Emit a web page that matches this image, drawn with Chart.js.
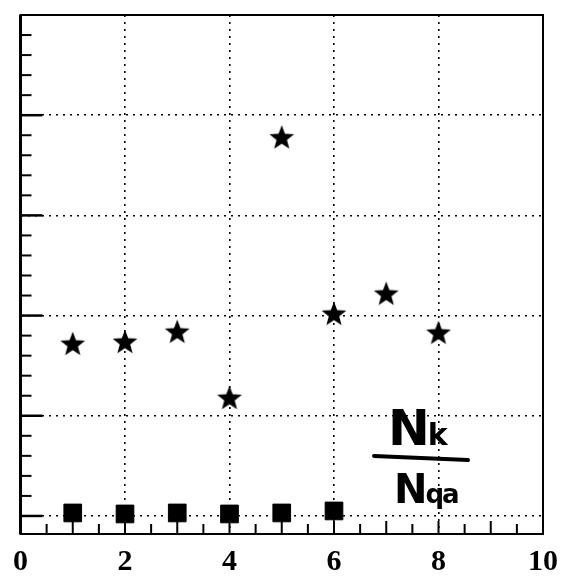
<!DOCTYPE html>
<html>
<head>
<meta charset="utf-8">
<script src="https://cdn.jsdelivr.net/npm/chart.js@4.4.1/dist/chart.umd.min.js"></script>
<style>
  html, body { margin: 0; padding: 0; background: #fff; }
  #wrap { position: relative; width: 571px; height: 576px; }
  .note { position: absolute; font-family: 'DejaVu Sans', sans-serif; font-weight: bold; color: #000; line-height: 1; }
</style>
</head>
<body>
<div id="wrap">
  <canvas id="chart" width="571" height="576"></canvas>
  <div class="note" style="left:388px; top:403px; font-size:50px; letter-spacing:-2px;">N<span style="font-size:30px">k</span></div>
  <div style="position:absolute; left:372px; top:456px; width:98px; height:4px; background:#000; transform:rotate(2.5deg); border-radius:2px;"></div>
  <div class="note" style="left:394px; top:469px; font-size:40px; letter-spacing:-2px;">N<span style="font-size:26px">qa</span></div>
</div>
<script>
// values
const xTicks = [0, 2, 4, 6, 8, 10];
const yTicks = [0, 1, 2, 3, 4, 5];
const starX = [1, 2, 3, 4, 5, 6, 7, 8];
const starY = [1.72, 1.74, 1.84, 1.18, 3.78, 2.02, 2.22, 1.83];
const squareX = [1, 2, 3, 4, 5, 6];
const squareY = [0.03, 0.02, 0.03, 0.02, 0.03, 0.05];

// filled five-point star as point image
function makeStar(size) {
    const c = document.createElement('canvas');
    c.width = size; c.height = size;
    const g = c.getContext('2d');
    const cx = size / 2, cy = size / 2 + 1, R = size / 2, r = R * 0.42;
    g.beginPath();
    for (let i = 0; i < 10; i++) {
        const rad = i % 2 === 0 ? R : r;
        const a = -Math.PI / 2 + i * Math.PI / 5;
        g.lineTo(cx + rad * Math.cos(a), cy + rad * Math.sin(a));
    }
    g.closePath();
    g.fillStyle = '#000';
    g.fill();
    return c;
}

const starImg = makeStar(26);

// inward ticks + frame
const framePlugin = {
    id: 'frame',
    afterDraw(chart) {
        const { ctx, chartArea: a, scales: { x, y } } = chart;
        ctx.save();
        ctx.strokeStyle = '#000';
        ctx.lineWidth = 2;
        for (let v = 0.5; v < 10; v += 0.5) {
            const px = x.getPixelForValue(v);
            ctx.beginPath();
            ctx.moveTo(px, a.bottom);
            ctx.lineTo(px, a.bottom - (Number.isInteger(v) ? 13 : 10));
            ctx.stroke();
        }
        for (let v = 0; v < 5; v += 0.2) {
            const py = y.getPixelForValue(v);
            const major = Math.abs(v - Math.round(v)) < 1e-6;
            ctx.lineWidth = major ? 2.5 : 2;
            ctx.beginPath();
            ctx.moveTo(a.left, py);
            ctx.lineTo(a.left + (major ? 22 : 11), py);
            ctx.stroke();
        }
        ctx.lineWidth = 2;
        ctx.strokeRect(a.left, a.top, a.right - a.left, a.bottom - a.top);
        ctx.lineWidth = 3;
        ctx.beginPath();
        ctx.moveTo(a.left, a.top);
        ctx.lineTo(a.left, a.bottom);
        ctx.stroke();
        ctx.restore();
    }
};

new Chart(document.getElementById('chart'), {
    type: 'scatter',
    data: {
        datasets: [
            {
                label: 'stars',
                data: starX.map((v, i) => ({ x: v, y: starY[i] })),
                pointStyle: starImg,
                pointRadius: 13
            },
            {
                label: 'squares',
                data: squareX.map((v, i) => ({ x: v, y: squareY[i] })),
                pointStyle: 'rect',
                pointRadius: 12.5,
                backgroundColor: '#000',
                borderColor: '#000',
                borderWidth: 1
            }
        ]
    },
    options: {
        responsive: false,
        animation: false,
        layout: { padding: { left: 18, right: 26, top: 15, bottom: -14 } },
        plugins: { legend: { display: false }, tooltip: { enabled: false } },
        scales: {
            x: {
                type: 'linear',
                min: 0,
                max: 10,
                afterBuildTicks: s => { s.ticks = xTicks.map(v => ({ value: v })); },
                grid: { color: '#000', lineWidth: 1.6, drawTicks: false },
                border: { display: false, dash: [2, 5] },
                ticks: {
                    color: '#000',
                    padding: 13,
                    maxRotation: 0,
                    font: { family: "'Liberation Serif', serif", size: 30, weight: 'bold', lineHeight: 1 }
                }
            },
            y: {
                type: 'linear',
                min: -0.18,
                max: 5,
                afterBuildTicks: s => { s.ticks = yTicks.map(v => ({ value: v })); },
                grid: { color: '#000', lineWidth: 1.6, drawTicks: false },
                border: { display: false, dash: [2, 5] },
                ticks: { display: false }
            }
        }
    },
    plugins: [framePlugin]
});
</script>
</body>
</html>
